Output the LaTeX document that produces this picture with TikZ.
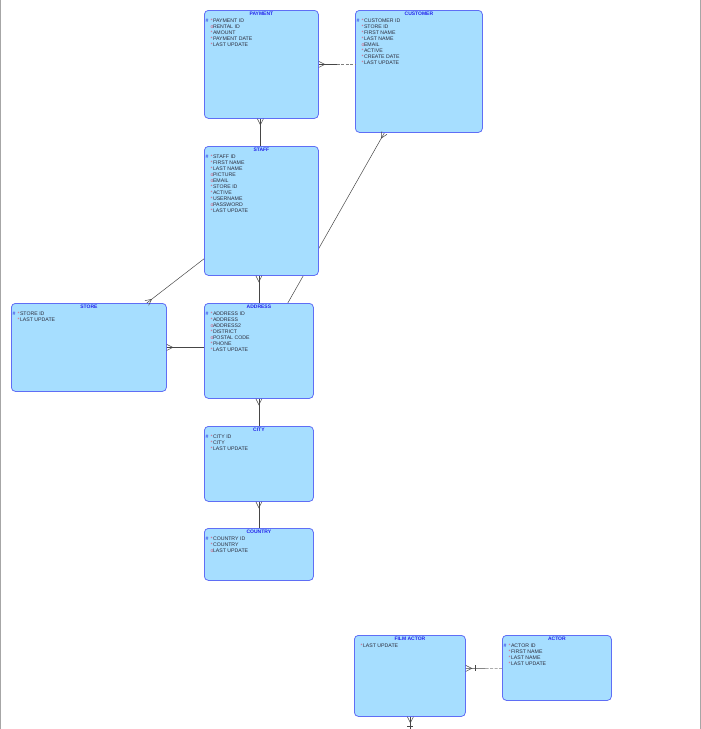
\documentclass[tikz,border=0pt]{standalone}
\usepackage{fontspec}
\setmainfont{Liberation Sans}
\usetikzlibrary{positioning, calc, backgrounds}

\definecolor{boxfill}{RGB}{166,222,255}
\definecolor{boxline}{RGB}{95,110,245}
\definecolor{titleblue}{RGB}{35,35,235}
\definecolor{keyblue}{RGB}{60,80,230}
\definecolor{markpink}{RGB}{215,90,120}
\definecolor{attrgray}{RGB}{45,45,60}
\definecolor{linkgray}{RGB}{70,70,70}

% marker columns in front of an attribute
\newcommand{\keycol}[2]{\makebox[5pt][l]{#1}\makebox[2.3pt][l]{#2}}
\newcommand{\pk}{\keycol{\textcolor{keyblue}{\bfseries\#}}{\textcolor{markpink}{*}}}
\newcommand{\req}{\keycol{}{\textcolor{markpink}{*}}}
\newcommand{\opt}{\keycol{}{\textcolor{markpink}{o}}}

% crow's foot at (#1), on the line towards (#2)
\newcommand{\crowfoot}[2]{%
  \draw[link] ($(#1)!3pt!90:(#2)$) -- ($(#1)!6pt!(#2)$) -- ($(#1)!3pt!-90:(#2)$);}
% bar across the line, 9pt from (#1)
\newcommand{\onebar}[2]{%
  \draw[link] ($(#1)!9pt!(#2)$) -- ($($(#1)!9pt!(#2)$)!3pt!90:(#2)$)
              ($(#1)!9pt!(#2)$) -- ($($(#1)!9pt!(#2)$)!3pt!-90:(#2)$);}

\begin{document}
\begin{tikzpicture}[
    x=1pt, y=-1pt,
    % Entity boxes
    entity/.style={draw=boxline, fill=boxfill, rounded corners=4pt, line width=0.8pt,
                   anchor=north west, inner sep=0pt},
    % Entity name
    etitle/.style={anchor=north, inner sep=0pt, yshift=-1.8pt, text=titleblue,
                   font=\fontsize{5}{6}\selectfont\bfseries},
    % Attribute list
    attrs/.style={anchor=north west, inner sep=0pt, align=left, text=attrgray,
                  font=\fontsize{5.2}{6}\selectfont},
    % Relationship lines
    link/.style={draw=linkgray, line width=0.5pt},
    optlink/.style={draw=linkgray!70, line width=0.5pt, dash pattern=on 3pt off 1.5pt}
]
    \useasboundingbox (0,0) rectangle (701,729);
    \draw[gray!70] (0.5,0) -- (0.5,729);
    \draw[gray!70] (700.5,0) -- (700.5,729);

    % --- PAYMENT ---
    \node[entity, minimum width=114pt, minimum height=108pt] (payment) at (204,10) {};
    \node[etitle] (payment-t) at (payment.north) {PAYMENT};
    \node[attrs] (payment-a) at ([xshift=1.5pt, yshift=-9pt]payment.north west)
        {\pk PAYMENT ID\\ \opt RENTAL ID\\ \req AMOUNT\\ \req PAYMENT DATE\\ \req LAST UPDATE};

    % --- CUSTOMER ---
    \node[entity, minimum width=127pt, minimum height=122pt] (customer) at (355,10) {};
    \node[etitle] (customer-t) at (customer.north) {CUSTOMER};
    \node[attrs] (customer-a) at ([xshift=1.5pt, yshift=-9pt]customer.north west)
        {\pk CUSTOMER ID\\ \req STORE ID\\ \req FIRST NAME\\ \req LAST NAME\\ \opt EMAIL\\
         \req ACTIVE\\ \req CREATE DATE\\ \req LAST UPDATE};

    % --- STAFF ---
    \node[entity, minimum width=114pt, minimum height=129pt] (staff) at (204,146) {};
    \node[etitle] (staff-t) at (staff.north) {STAFF};
    \node[attrs] (staff-a) at ([xshift=1.5pt, yshift=-9pt]staff.north west)
        {\pk STAFF ID\\ \req FIRST NAME\\ \req LAST NAME\\ \opt PICTURE\\ \opt EMAIL\\
         \req STORE ID\\ \req ACTIVE\\ \req USERNAME\\ \opt PASSWORD\\ \req LAST UPDATE};

    % --- STORE ---
    \node[entity, minimum width=155pt, minimum height=88pt] (store) at (11,303) {};
    \node[etitle] (store-t) at (store.north) {STORE};
    \node[attrs] (store-a) at ([xshift=1.5pt, yshift=-9pt]store.north west)
        {\pk STORE ID\\ \req LAST UPDATE};

    % --- ADDRESS ---
    \node[entity, minimum width=109pt, minimum height=95pt] (address) at (204,303) {};
    \node[etitle] (address-t) at (address.north) {ADDRESS};
    \node[attrs] (address-a) at ([xshift=1.5pt, yshift=-9pt]address.north west)
        {\pk ADDRESS ID\\ \req ADDRESS\\ \opt ADDRESS2\\ \req DISTRICT\\ \opt POSTAL CODE\\
         \req PHONE\\ \req LAST UPDATE};

    % --- CITY ---
    \node[entity, minimum width=109pt, minimum height=75pt] (city) at (204,426) {};
    \node[etitle] (city-t) at (city.north) {CITY};
    \node[attrs] (city-a) at ([xshift=1.5pt, yshift=-9pt]city.north west)
        {\pk CITY ID\\ \req CITY\\ \req LAST UPDATE};

    % --- COUNTRY ---
    \node[entity, minimum width=109pt, minimum height=52pt] (country) at (204,528) {};
    \node[etitle] (country-t) at (country.north) {COUNTRY};
    \node[attrs] (country-a) at ([xshift=1.5pt, yshift=-9pt]country.north west)
        {\pk COUNTRY ID\\ \req COUNTRY\\ \opt LAST UPDATE};

    % --- FILM ACTOR ---
    \node[entity, minimum width=111pt, minimum height=81pt] (filmactor) at (354,635) {};
    \node[etitle] (filmactor-t) at (filmactor.north) {FILM ACTOR};
    \node[attrs] (filmactor-a) at ([xshift=1.5pt, yshift=-9pt]filmactor.north west)
        {\req LAST UPDATE};

    % --- ACTOR ---
    \node[entity, minimum width=109pt, minimum height=65pt] (actor) at (502,635) {};
    \node[etitle] (actor-t) at (actor.north) {ACTOR};
    \node[attrs] (actor-a) at ([xshift=1.5pt, yshift=-9pt]actor.north west)
        {\pk ACTOR ID\\ \req FIRST NAME\\ \req LAST NAME\\ \req LAST UPDATE};

    % --- RELATIONSHIPS ---
    % payment -> customer
    \coordinate (pc1) at (payment.east);
    \coordinate (pc2) at (payment.east -| customer.west);
    \coordinate (pcm) at ($(pc1)!0.5!(pc2)$);
    \draw[link] (pc1) -- (pcm);
    \draw[optlink] (pcm) -- (pc2);
    \crowfoot{pc1}{pc2}

    % payment -> staff
    \coordinate (ps1) at ([xshift=-1pt]payment.south);
    \coordinate (ps2) at (ps1 |- staff.north);
    \draw[link] (ps1) -- (ps2);
    \crowfoot{ps1}{ps2}

    % address -> customer, behind staff
    \coordinate (ac1) at ([xshift=-34.5pt]customer.south);
    \coordinate (ac2) at ([xshift=-26pt]address.north east);
    \begin{scope}[on background layer]
        \draw[link] (ac1) -- (ac2);
    \end{scope}
    \crowfoot{ac1}{ac2}

    % store -> staff
    \coordinate (ss1) at ([xshift=-20pt]store.north east);
    \coordinate (ss2) at ([yshift=17pt]staff.south west);
    \draw[link] (ss1) -- (ss2);
    \crowfoot{ss1}{ss2}

    % staff -> address
    \coordinate (sa1) at (staff.south -| address.north);
    \coordinate (sa2) at (address.north);
    \draw[link] (sa1) -- (sa2);
    \crowfoot{sa1}{sa2}

    % store -> address
    \coordinate (sd1) at (store.east);
    \coordinate (sd2) at (store.east -| address.west);
    \draw[link] (sd1) -- (sd2);
    \crowfoot{sd1}{sd2}

    % address -> city
    \coordinate (ci1) at (address.south);
    \coordinate (ci2) at (city.north);
    \draw[link] (ci1) -- (ci2);
    \crowfoot{ci1}{ci2}

    % city -> country
    \coordinate (co1) at (city.south);
    \coordinate (co2) at (country.north);
    \draw[link] (co1) -- (co2);
    \crowfoot{co1}{co2}

    % film actor -> actor
    \coordinate (fa1) at ([yshift=7.5pt]filmactor.east);
    \coordinate (fa2) at (fa1 -| actor.west);
    \coordinate (fam) at ($(fa1)!0.55!(fa2)$);
    \draw[link] (fa1) -- (fam);
    \draw[optlink] (fam) -- (fa2);
    \crowfoot{fa1}{fa2}
    \onebar{fa1}{fa2}

    % film actor -> off the page
    \coordinate (ff1) at ([xshift=0.5pt]filmactor.south);
    \coordinate (ff2) at (ff1 |- 0,729);
    \draw[link] (ff1) -- (ff2);
    \crowfoot{ff1}{ff2}
    \onebar{ff1}{ff2}

\end{tikzpicture}
\end{document}
